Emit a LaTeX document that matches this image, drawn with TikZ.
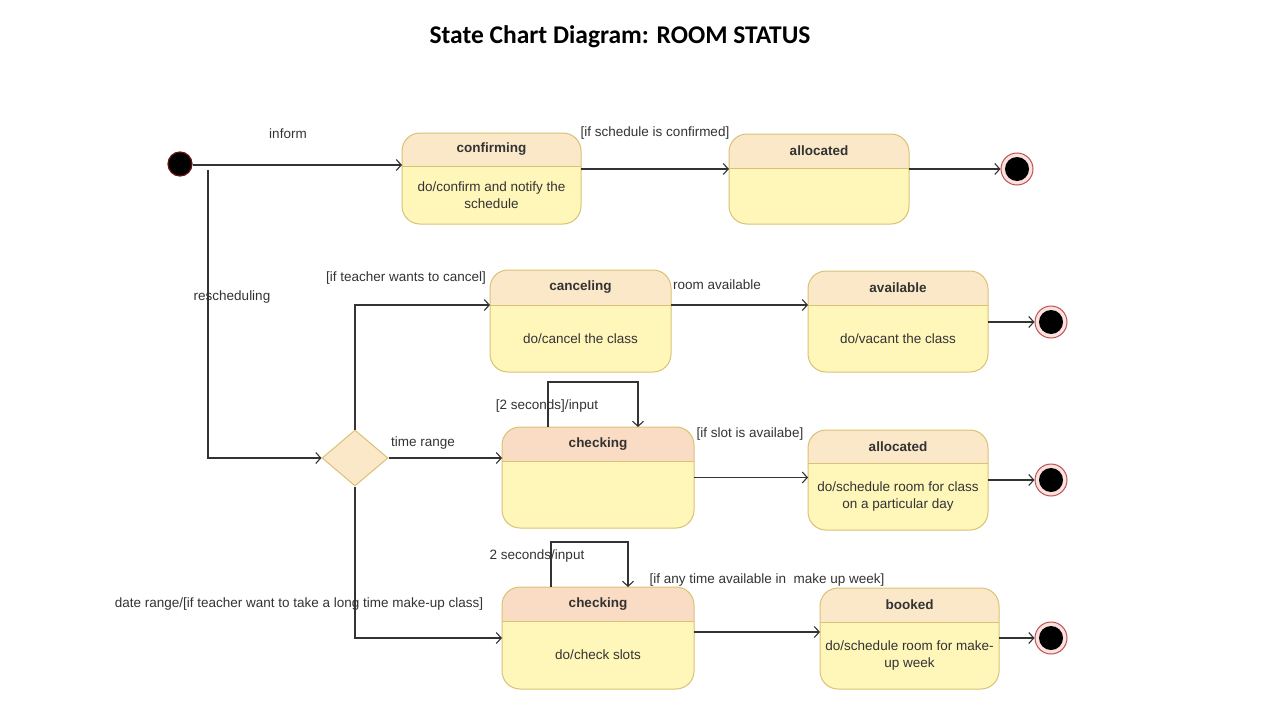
\documentclass[tikz,border=0pt]{standalone}
\usepackage{fontspec}
\setmainfont{Liberation Sans}
\newfontfamily\titlefont{Carlito}
\usetikzlibrary{arrows.meta,shapes.geometric,calc}
\definecolor{hdr}{HTML}{FBE8C9}
\definecolor{hdrb}{HTML}{FADCC4}
\definecolor{bodyc}{HTML}{FFF6BA}
\definecolor{edgec}{HTML}{D9C274}
\definecolor{linec}{HTML}{333333}
\definecolor{txtc}{HTML}{333333}
\definecolor{finred}{HTML}{C0504D}
\definecolor{finpink}{HTML}{FBE0E0}
\definecolor{initred}{HTML}{6A1010}
\tikzset{
  stbox/.style={rectangle, rounded corners=18pt, fill=bodyc, inner sep=0pt, outer sep=0pt},
  stedge/.style={draw=edgec, line width=1pt},
  sttitle/.style={font=\fontsize{13.5}{17}\selectfont\bfseries, text=txtc},
  stbody/.style={font=\fontsize{13.5}{17}\selectfont, text=txtc, align=center},
  lbl/.style={font=\fontsize{13.5}{17}\selectfont, text=txtc, inner sep=1pt},
  tr/.style={draw=linec, line width=1.1pt, -{Straight Barb[length=5pt,width=11pt,line width=1.1pt]}},
  ln/.style={draw=linec, line width=1.1pt},
  initst/.style={circle, fill=black, draw=initred, line width=1.2pt, minimum size=24pt, inner sep=0pt},
  finst/.style={circle, fill=finpink, draw=finred, line width=1pt, minimum size=32pt, inner sep=0pt,
    path picture={\fill[black] (path picture bounding box.center) circle (12pt);}},
  dec/.style={diamond, fill=hdr, draw=edgec, line width=1pt, minimum width=66pt, minimum height=56pt, inner sep=0pt, aspect=1.18}
}
\newcommand\umlstate[9]{%
  \node[stbox, minimum width=#4pt, minimum height=#5pt, anchor=north west] (#1) at (#2,#3) {};
  \coordinate (#1-hl) at ([yshift=-#6pt]#1.north west);
  \coordinate (#1-hr) at ([yshift=-#6pt]#1.north east);
  \coordinate (#1-hc) at ([yshift=-#6pt]#1.north);
  \begin{scope}
    \clip[rounded corners=18pt] (#1.north west) rectangle (#1.south east);
    \fill[#7] (#1.north west) rectangle (#1-hr);
  \end{scope}
  \draw[stedge] (#1-hl) -- (#1-hr);
  \draw[stedge, rounded corners=18pt] (#1.north west) rectangle (#1.south east);
  \node[sttitle] (#1-t) at ($(#1.north)!0.5!(#1-hc)$) {#8};
  \node[stbody] (#1-b) at ($(#1-hc)!0.5!(#1.south)$) {#9};
}
\begin{document}
\begin{tikzpicture}[x=1pt,y=-1pt]
\fill[white] (0,0) rectangle (1280,720);
\useasboundingbox (0,0) rectangle (1280,720);

\node[font=\titlefont\fontsize{25.5}{30}\selectfont\bfseries] (title) at (620,37) {State Chart Diagram: ROOM STATUS};

% states
\umlstate{conf}{402}{133}{179}{91}{33}{hdr}{confirming}{do/confirm and notify the\\schedule}
\umlstate{allocA}{729}{134}{180}{90}{34}{hdr}{allocated}{}
\umlstate{canc}{490}{270}{181}{102}{35}{hdr}{canceling}{do/cancel the class}
\umlstate{avail}{808}{271}{180}{101}{34}{hdr}{available}{do/vacant the class}
\umlstate{chkA}{502}{427}{192}{101}{34}{hdrb}{checking}{}
\umlstate{allocB}{808}{430}{180}{100}{33}{hdr}{allocated}{do/schedule room for class\\on a particular day}
\umlstate{chkB}{502}{587}{192}{102}{34}{hdrb}{checking}{do/check slots}
\umlstate{booked}{820}{588}{179}{101}{34}{hdr}{booked}{do/schedule room for make-\\up week}

\node[initst] (init) at (180,164) {};
\node[dec] (dia) at (355,458) {};
\node[finst] (finA) at (1017,169) {};
\node[finst] (finB) at (1051,322) {};
\node[finst] (finC) at (1051,480) {};
\node[finst] (finD) at (1051,638) {};
\coordinate (r0) at (208,170);

% transitions
\draw[tr] (init.east) ++(0,1) coordinate (iA) -- (iA -| conf.west);
\draw[tr] (conf-hr) ++(0,3) coordinate (cA) -- (cA -| allocA.west);
\draw[tr] (allocA.east |- finA.west) -- (finA.west);
\draw[tr] (r0) |- (dia.west);
\draw[tr] (dia.north) |- (canc-hl);
\draw[tr] (canc-hr) -- (canc-hr -| avail.west);
\draw[tr] (avail.east |- finB.west) -- (finB.west);
\draw[tr] (dia.east) -- (dia.east -| chkA.west);
\draw[tr] (chkA.east) -- (chkA.east -| allocB.west);
\draw[tr] (allocB.east |- finC.west) -- (finC.west);
\draw[tr] (dia.south) |- (chkB.west);
\draw[tr] ([yshift=6pt]chkB.east) -- ([yshift=6pt]chkB.east -| booked.west);
\draw[tr] (booked.east |- finD.west) -- (finD.west);
\draw[tr] ([xshift=46pt]chkA.north west) -- ++(0,-45) -| ([xshift=136pt]chkA.north west);
\draw[tr] ([xshift=49pt]chkB.north west) -- ++(0,-45) -| ([xshift=126pt]chkB.north west);

% labels
\node[lbl] (l1) at (288,134) {inform};
\node[lbl] (l2) at (655,133) {[if schedule is confirmed]};
\node[lbl] (l3) at (232,297) {rescheduling};
\node[lbl] (l4) at (406,278) {[if teacher wants to cancel]};
\node[lbl] (l5) at (717,285) {room available};
\node[lbl] (l6) at (547,406) {[2 seconds]/input};
\node[lbl] (l7) at (423,443) {time range};
\node[lbl] (l8) at (750,434) {[if slot is availabe]};
\node[lbl] (l9) at (537,556) {2 seconds/input};
\node[lbl] (l10) at (299,604) {date range/[if teacher want to take a long time make-up class]};
\node[lbl] (l11) at (767,580) {[if any time available in\ \ make up week]};
\end{tikzpicture}
\end{document}
